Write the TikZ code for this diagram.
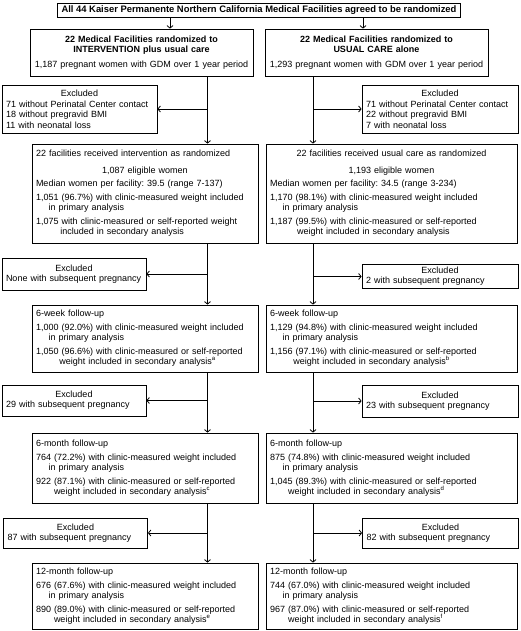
\documentclass[tikz,border=0pt]{standalone}
\usepackage{fontspec}
\setmainfont{Liberation Sans}
\usetikzlibrary{arrows.meta,calc,positioning}
\frenchspacing

\newcommand{\ctline}[1]{\hspace*{\fill}#1\hspace*{\fill}\mbox{}}
\newcommand{\indt}[1][1.4em]{\hspace*{#1}}

\begin{document}
\begin{tikzpicture}[x=1pt, y=-1pt,
  every node/.style={font=\fontsize{9}{10.2}\selectfont},
  box/.style={draw, rectangle, line width=0.8pt, inner xsep=4pt, inner ysep=2pt, align=left},
  headbox/.style={box, minimum width=223pt, text width=215pt, minimum height=47pt, align=center},
  lbox/.style={box, minimum width=226pt, text width=218pt},
  rbox/.style={box, minimum width=251pt, text width=243pt},
  lexcl/.style={box, minimum width=144pt, text width=136pt},
  rexcl/.style={box, minimum width=156pt, text width=148pt},
  conn/.style={line width=0.8pt, -{Straight Barb[length=2.5pt,width=6pt]}}]

\useasboundingbox (0,0) rectangle (520,631);

% all facilities
\node[box, minimum width=398pt, minimum height=14pt, inner ysep=1pt, align=center, font=\fontsize{9.4}{10}\selectfont\bfseries] (top) at (259,10)
  {All 44 Kaiser Permanente Northern California Medical Facilities agreed to be randomized};

% randomization
\node[headbox] (L1) at (141.5,52.5) {\textbf{22 Medical Facilities randomized to}\\\textbf{INTERVENTION plus usual care}\\[4pt]1,187 pregnant women with GDM over 1 year period};
\node[headbox] (R1) at (376.5,52.5) {\textbf{22 Medical Facilities randomized to}\\\textbf{USUAL CARE alone}\\[4pt]1,293 pregnant women with GDM over 1 year period};

% first exclusions
\node[box, minimum width=155pt, text width=147pt, minimum height=48pt] (EL1) at (79.5,109)
  {\ctline{Excluded}\\[1pt]71 without Perinatal Center contact\\18 without pregravid BMI\\11 with neonatal loss};
\node[rexcl, minimum height=48pt] (ER1) at (440,109)
  {\ctline{Excluded}\\[1pt]71 without Perinatal Center contact\\22 without pregravid BMI\\7 with neonatal loss};

% as randomized
\node[lbox, minimum height=99pt] (L2) at (145,193.5)
  {22 facilities received intervention as randomized\\[6pt]
   \ctline{1,087 eligible women}\\[3.5pt]
   Median women per facility: 39.5 (range 7-137)\\[3.5pt]
   1,051 (96.7\%) with clinic-measured weight included\\
   \indt in primary analysis\\[3.5pt]
   1,075 with clinic-measured or self-reported weight\\
   \indt[2.7em]included in secondary analysis};
\node[rbox, minimum height=99pt] (R2) at (391.5,193.5)
  {\ctline{22 facilities received usual care as randomized}\\[6pt]
   \ctline{1,193 eligible women}\\[3.5pt]
   Median women per facility: 34.5 (range 3-234)\\[3.5pt]
   1,170 (98.1\%) with clinic-measured weight included\\
   \indt in primary analysis\\[3.5pt]
   1,187 (99.5\%) with clinic-measured or self-reported\\
   \indt[3em]weight included in secondary analysis};

\node[lexcl, minimum height=32pt] (EL2) at (74,274) {\ctline{Excluded}\\None with subsequent pregnancy};
\node[rexcl, minimum height=24pt, inner ysep=1pt] (ER2) at (440,276.5) {\ctline{Excluded}\\2 with subsequent pregnancy};

% 6-week follow-up
\node[lbox, minimum height=67pt] (L3) at (145,338.5)
  {6-week follow-up\\[3.5pt]
   1,000 (92.0\%) with clinic-measured weight included\\
   \indt in primary analysis\\[3.5pt]
   1,050 (96.6\%) with clinic-measured or self-reported\\
   \indt[2.6em]weight included in secondary analysis\textsuperscript{a}};
\node[rbox, minimum height=67pt] (R3) at (391.5,338.5)
  {6-week follow-up\\[3.5pt]
   1,129 (94.8\%) with clinic-measured weight included\\
   \indt in primary analysis\\[3.5pt]
   1,156 (97.1\%) with clinic-measured or self-reported\\
   \indt[2.6em]weight included in secondary analysis\textsuperscript{b}};

\node[lexcl, minimum height=31pt] (EL3) at (74,400.5) {\ctline{Excluded}\\29 with subsequent pregnancy};
\node[rexcl, minimum height=32pt] (ER3) at (440,401) {\ctline{Excluded}\\23 with subsequent pregnancy};

% 6-month follow-up
\node[lbox, minimum height=70pt] (L4) at (145,468)
  {6-month follow-up\\[3.5pt]
   764 (72.2\%) with clinic-measured weight included\\
   \indt in primary analysis\\[3.5pt]
   922 (87.1\%) with clinic-measured or self-reported\\
   \indt[2em]weight included in secondary analysis\textsuperscript{c}};
\node[rbox, minimum height=70pt] (R4) at (391.5,468)
  {6-month follow-up\\[3.5pt]
   875 (74.8\%) with clinic-measured weight included\\
   \indt in primary analysis\\[3.5pt]
   1,045 (89.3\%) with clinic-measured or self-reported\\
   \indt[2em]weight included in secondary analysis\textsuperscript{d}};

\node[lexcl, minimum height=30pt] (EL4) at (75.5,533) {\ctline{Excluded}\\87 with subsequent pregnancy};
\node[rexcl, minimum height=30pt] (ER4) at (440.5,533) {\ctline{Excluded}\\82 with subsequent pregnancy};

% 12-month follow-up
\node[lbox, minimum height=66pt] (L5) at (145,596)
  {12-month follow-up\\[3.5pt]
   676 (67.6\%) with clinic-measured weight included\\
   \indt in primary analysis\\[3.5pt]
   890 (89.0\%) with clinic-measured or self-reported\\
   \indt[2em]weight included in secondary analysis\textsuperscript{e}};
\node[rbox, minimum height=66pt] (R5) at (391.5,596)
  {12-month follow-up\\[3.5pt]
   744 (67.0\%) with clinic-measured weight included\\
   \indt in primary analysis\\[3.5pt]
   967 (87.0\%) with clinic-measured or self-reported\\
   \indt[2em]weight included in secondary analysis\textsuperscript{f}};

% trunk positions
\coordinate (xa) at (170,0);
\coordinate (xb) at (363,0);
\coordinate (xl) at (207.5,0);
\coordinate (xr) at (313,0);

% randomization arrows
\draw[conn] (top.south -| xa) -- (L1.north -| xa);
\draw[conn] (top.south -| xb) -- (R1.north -| xb);

% intervention arm
\draw[conn] (L1.south -| xl) -- (L2.north -| xl);
\draw[conn] (xl |- EL1.east) -- (EL1.east);
\draw[conn] (L2.south -| xl) -- (L3.north -| xl);
\draw[conn] (xl |- EL2.east) -- (EL2.east);
\draw[conn] (L3.south -| xl) -- (L4.north -| xl);
\draw[conn] (xl |- EL3.east) -- (EL3.east);
\draw[conn] (L4.south -| xl) -- (L5.north -| xl);
\draw[conn] (xl |- EL4.east) -- (EL4.east);

% usual care arm
\draw[conn] (R1.south -| xr) -- (R2.north -| xr);
\draw[conn] (xr |- ER1.west) -- (ER1.west);
\draw[conn] (R2.south -| xr) -- (R3.north -| xr);
\draw[conn] (xr |- ER2.west) -- (ER2.west);
\draw[conn] (R3.south -| xr) -- (R4.north -| xr);
\draw[conn] (xr |- ER3.west) -- (ER3.west);
\draw[conn] (R4.south -| xr) -- (R5.north -| xr);
\draw[conn] (xr |- ER4.west) -- (ER4.west);

\end{tikzpicture}
\end{document}
